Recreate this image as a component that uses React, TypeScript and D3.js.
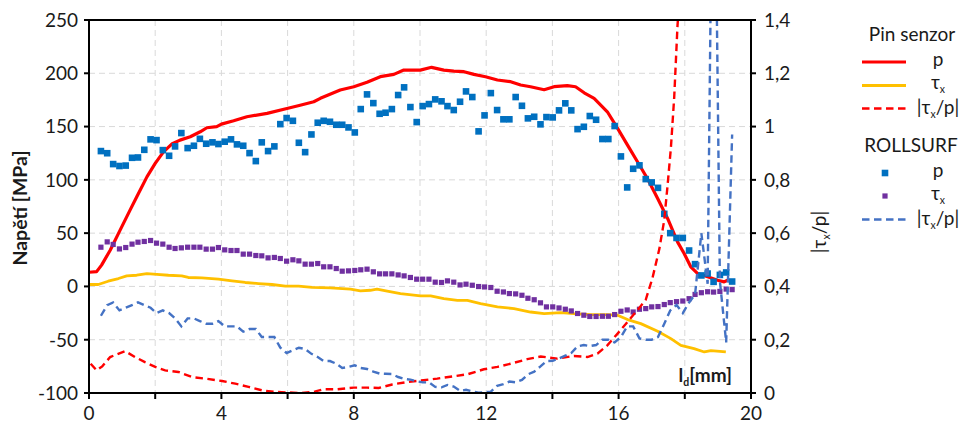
import React from 'react';
import * as d3 from 'd3';

const W = 967;
const H = 423;
const PL = 89, PR = 751, PT = 20, PB = 393;

// Pin senzor p [MPa]
const pinPX = [0, 0.23, 0.38, 0.64, 0.94, 1.24, 1.44, 1.75, 2.0, 2.25, 2.5, 2.75, 3.06, 3.36, 3.56, 3.86, 4.0, 4.37, 4.77, 5.38, 5.98, 6.38, 6.79, 6.99, 7.59, 8.0, 8.4, 8.8, 9.21, 9.51, 10.01, 10.35, 10.72, 11.02, 11.33, 11.63, 11.98, 12.34, 12.74, 13.04, 13.34, 13.75, 14.05, 14.45, 14.7, 14.96, 15.26, 15.66, 15.97, 16.27, 16.57, 16.87, 17.18, 17.48, 17.78, 17.98, 18.18, 18.39, 18.69, 18.99, 19.19, 19.29];
const pinP = [13.3, 13.9, 20, 34, 52.8, 71.6, 84, 102.8, 115.4, 126.3, 133.6, 137.3, 140.4, 145.1, 148.9, 150, 152.3, 155.4, 159.2, 162.4, 167, 170, 173.3, 176.5, 184.3, 187.4, 191.5, 196.8, 199, 203, 203, 205.6, 203, 202, 201.5, 199, 196.8, 193.7, 192.1, 189, 187.4, 184.6, 187.4, 188.4, 187.4, 181.7, 176.5, 163.9, 148.3, 132.6, 117, 101.3, 82.6, 63.8, 41.8, 30.9, 18.4, 12.1, 9, 5.8, 4.3, 5.8];

// Pin senzor tau_x [MPa]
const pinTauX = [0, 0.28, 0.58, 0.89, 1.14, 1.44, 1.75, 2.05, 2.4, 2.8, 3.0, 3.41, 3.91, 4.32, 4.72, 5.12, 5.53, 5.93, 6.33, 6.74, 7.29, 7.9, 8.2, 8.5, 8.7, 9.01, 9.41, 10.01, 10.32, 10.72, 11.13, 11.43, 11.83, 12.34, 12.84, 13.34, 13.75, 14.25, 14.65, 15.16, 15.66, 15.97, 16.27, 16.67, 17.18, 17.58, 17.88, 18.28, 18.59, 18.79, 19.24];
const pinTau = [1.8, 1.8, 4.9, 7.4, 9.9, 10.5, 12.1, 11.4, 10.5, 9.9, 8.4, 8.0, 6.8, 5.2, 3.7, 2.7, 1.8, 0.2, 0.2, -0.8, -1.4, -2.6, -4.2, -3.6, -2.6, -4.5, -6.7, -8.9, -8.9, -11.4, -13, -13, -16.1, -19.2, -20.8, -24, -25.5, -24.5, -25.5, -26.4, -26.4, -27, -31.1, -34.9, -42.1, -49, -55.3, -58.4, -61.5, -60.2, -61.5];

// Pin senzor |tau_x/p| (secondary axis)
const pinRatioX = [0.05, 0.23, 0.4, 0.64, 0.84, 1.09, 1.39, 1.69, 2.0, 2.3, 2.7, 3.11, 3.51, 4.02, 4.42, 4.82, 5.23, 5.63, 6.03, 6.43, 6.84, 7.09, 7.49, 8.0, 8.4, 8.75, 9.16, 9.61, 10.11, 10.52, 11.02, 11.43, 11.93, 12.34, 12.74, 13.24, 13.65, 14.15, 14.65, 15.06, 15.36, 15.66, 15.97, 16.27, 16.57, 16.82, 17.02, 17.23, 17.38, 17.48, 17.58, 17.68, 17.78, 17.85];
const pinRatio = [0.11, 0.085, 0.1, 0.135, 0.145, 0.157, 0.135, 0.116, 0.098, 0.085, 0.079, 0.06, 0.054, 0.045, 0.035, 0.023, 0.01, 0.004, 0.002, 0.0, 0.006, 0.014, 0.014, 0.02, 0.02, 0.019, 0.032, 0.041, 0.048, 0.054, 0.063, 0.07, 0.089, 0.098, 0.11, 0.127, 0.137, 0.129, 0.139, 0.135, 0.148, 0.179, 0.223, 0.267, 0.311, 0.35, 0.43, 0.54, 0.65, 0.78, 0.92, 1.11, 1.38, 1.5];

// ROLLSURF positions [mm]
const rsX = [
  0.36, 0.55, 0.73, 0.92, 1.11, 1.30, 1.48, 1.67, 1.86, 2.04,
  2.23, 2.42, 2.60, 2.79, 2.98, 3.17, 3.35, 3.54, 3.73, 3.91,
  4.10, 4.29, 4.47, 4.66, 4.85, 5.04, 5.22, 5.41, 5.60, 5.78,
  5.97, 6.16, 6.34, 6.53, 6.72, 6.91, 7.09, 7.28, 7.47, 7.65,
  7.84, 8.03, 8.21, 8.40, 8.59, 8.78, 8.96, 9.15, 9.34, 9.52,
  9.71, 9.90, 10.08, 10.27, 10.46, 10.65, 10.83, 11.02, 11.21, 11.39,
  11.58, 11.77, 11.95, 12.14, 12.33, 12.52, 12.70, 12.89, 13.08, 13.26,
  13.45, 13.64, 13.82, 14.01, 14.20, 14.39, 14.57, 14.76, 14.95, 15.13,
  15.32, 15.51, 15.69, 15.88, 16.07, 16.26, 16.44, 16.63, 16.82, 17.00,
  17.19, 17.38, 17.56, 17.75, 17.94, 18.13, 18.31, 18.50, 18.69, 18.87,
  19.06, 19.25, 19.43,
];
// ROLLSURF p [MPa]
const rsP = [
  127, 125, 114.8, 113, 113.4, 120.7, 121, 128.2, 138, 137.3,
  127.9, 122.6, 131.4, 143.9, 129.8, 132, 138.5, 133.9, 135.2, 133.6,
  135.8, 138, 133.3, 132, 125.1, 117.6, 135.2, 127, 131.4, 152.3,
  158, 155.4, 134.8, 126, 142.6, 153.6, 155.4, 154.5, 151.7, 151.7,
  149.2, 144.5, 166.4, 180.2, 172, 162, 163, 166.4, 179.6, 186.8,
  168.3, 154.2, 169.2, 171.1, 175.5, 173.7, 169.2, 165.5, 173.3, 183,
  177.7, 145.5, 160.5, 181.4, 165.5, 156.8, 156.8, 177.7, 169.5, 157.7,
  159.2, 152.1, 158.9, 158.6, 165.2, 171.8, 165.2, 147.6, 149.8, 159.9,
  156.4, 138.3, 138.3, 150.5, 122, 92.9, 110.4, 113.6, 100.7, 97.6,
  92.5, 68.1, 50, 45.5, 45.5, 33.7, 20.9, 10.3, 12.1, 4.3,
  10.8, 13.1, 4.6,
];
// ROLLSURF tau_x [MPa]
const rsTau = [
  36.8, 41.8, 39.4, 35.2, 36.5, 39.7, 41.5, 42.2, 43.1, 40.6,
  39.7, 36.8, 35.6, 36.2, 36.8, 36.8, 36.8, 35, 35, 36.5,
  34.3, 33.7, 33.7, 30.3, 30.3, 29, 28.7, 26.8, 27.2, 26.2,
  23.7, 25, 24, 20.9, 20.9, 21.5, 18.4, 18.4, 16.8, 14.3,
  14.6, 15, 15.6, 16.2, 13.7, 11.8, 11.8, 11.8, 10.8, 9.9,
  8.4, 6.8, 6.8, 6.8, 4, 3.7, 5.2, 4, 1.4, 2.1,
  1.1, -0.1, -0.5, -1, -4.5, -5.2, -6.7, -7, -8.3, -11.1,
  -12.5, -15.4, -19.2, -19.2, -20.2, -21.4, -23, -25.4, -27, -28.2,
  -28.2, -28, -28, -26.4, -23.3, -22.1, -24, -21.4, -20.8, -19.2,
  -18.9, -17, -15.2, -14.3, -13.7, -11.5, -7.5, -5.9, -5, -5.3,
  -4.7, -2.5, -3,
];
// ROLLSURF |tau_x/p| (secondary axis)
const rsRatio = [
  0.29, 0.33, 0.34, 0.31, 0.32, 0.33, 0.34, 0.33, 0.32, 0.30,
  0.31, 0.30, 0.28, 0.25, 0.28, 0.28, 0.27, 0.26, 0.26, 0.27,
  0.25, 0.25, 0.25, 0.23, 0.24, 0.24, 0.21, 0.21, 0.21, 0.17,
  0.15, 0.16, 0.17, 0.165, 0.147, 0.135, 0.12, 0.12, 0.11, 0.094,
  0.098, 0.104, 0.094, 0.09, 0.08, 0.073, 0.072, 0.071, 0.06, 0.053,
  0.05, 0.044, 0.04, 0.04, 0.023, 0.021, 0.03, 0.024, 0.008, 0.012,
  0.006, 0.001, 0.003, 0.005, 0.027, 0.033, 0.043, 0.04, 0.049, 0.07,
  0.08, 0.10, 0.12, 0.121, 0.13, 0.14, 0.15, 0.175, 0.18, 0.176,
  0.18, 0.20, 0.20, 0.19, 0.21, 0.25, 0.25, 0.205, 0.20, 0.20,
  0.21, 0.26, 0.31, 0.33, 0.30, 0.34, 0.37, 0.60, 0.41, 2.5,
  0.42, 0.19, 0.97,
];

const xTicks = [0, 2, 4, 6, 8, 10, 12, 14, 16, 18, 20];
const xLabelTicks = [0, 4, 8, 12, 16, 20];
const yTicks = [-100, -50, 0, 50, 100, 150, 200, 250];
const y2Ticks = [0, 0.2, 0.4, 0.6, 0.8, 1.0, 1.2, 1.4];

const FONT = "Lato, 'Open Sans', sans-serif";
const RED = '#FF0000';
const GOLD = '#FFC000';
const BLUE = '#0070C0';
const PURPLE = '#7030A0';
const DBLUE = '#4472C4';
const DASH = '7.5,4.5';

const x = d3.scaleLinear().domain([0, 20]).range([PL, PR]);
const y = d3.scaleLinear().domain([-100, 250]).range([PB, PT]);
const y2 = d3.scaleLinear().domain([0, 1.4]).range([PB, PT]);

const zip = (xs: number[], ys: number[]) => xs.map((v, i) => [v, ys[i]] as [number, number]);

const lineP = d3.line<[number, number]>().x(d => x(d[0])).y(d => y(d[1]));
const lineS = d3.line<[number, number]>().x(d => x(d[0])).y(d => y2(d[1]));

const fmt2 = (v: number) => String(+v.toFixed(1)).replace('.', ',');

const Tau = ({ fs }: { fs: number }) => (
  <>
    <tspan>τ</tspan>
    <tspan fontSize={fs * 0.55} dy={fs * 0.22}>x</tspan>
  </>
);

export default function App() {
  const legendTextX = 938;
  const fs = 19;
  return (
    <svg width={W} height={H} style={{ position: 'absolute', left: 0, top: 0, background: '#fff' }} fontFamily={FONT}>
      <defs>
        <clipPath id="plotClip">
          <rect x={PL} y={PT} width={PR - PL} height={PB - PT} />
        </clipPath>
      </defs>
      <rect x={0} y={0} width={W} height={H} fill="#fff" />
      {/* grid */}
      <g stroke="#d9d9d9" strokeWidth={1} strokeDasharray="6,4">
        {xTicks.filter(t => t > 0 && t < 20).map(t => (
          <line key={'gx' + t} x1={x(t)} x2={x(t)} y1={PT} y2={PB} />
        ))}
        {yTicks.filter(t => t > -100 && t < 250).map(t => (
          <line key={'gy' + t} x1={PL} x2={PR} y1={y(t)} y2={y(t)} />
        ))}
      </g>

      {/* series */}
      <g clipPath="url(#plotClip)">
        <path d={lineP(zip(pinPX, pinP)) || ''} fill="none" stroke={RED} strokeWidth={3.2} strokeLinejoin="round" />
        <path d={lineP(zip(pinTauX, pinTau)) || ''} fill="none" stroke={GOLD} strokeWidth={2.8} strokeLinejoin="round" />
        {rsX.map((v, i) => (
          <rect key={'bp' + i} x={x(v) - 3.3} y={y(rsP[i]) - 3.3} width={6.6} height={6.6} fill={BLUE} />
        ))}
        {rsX.map((v, i) => (
          <rect key={'pt' + i} x={x(v) - 2.6} y={y(rsTau[i]) - 2.6} width={5.2} height={5.2} fill={PURPLE} />
        ))}
        <path d={lineS(zip(pinRatioX, pinRatio)) || ''} fill="none" stroke={RED} strokeWidth={2.4} strokeDasharray={DASH} />
        <path d={lineS(zip(rsX, rsRatio)) || ''} fill="none" stroke={DBLUE} strokeWidth={2.4} strokeDasharray={DASH} />
      </g>

      {/* axes */}
      <g stroke="#000" strokeWidth={2}>
        <line x1={PL} x2={PR} y1={PT} y2={PT} />
        <line x1={PL} x2={PR} y1={PB} y2={PB} />
        <line x1={PL} x2={PL} y1={PT} y2={PB + 1} />
        <line x1={PR} x2={PR} y1={PT} y2={PB + 1} />
        {yTicks.map(t => <line key={'ty' + t} x1={PL - 5} x2={PL} y1={y(t)} y2={y(t)} />)}
        {y2Ticks.map(t => <line key={'ty2' + t} x1={PR} x2={PR + 5} y1={y2(t)} y2={y2(t)} />)}
        {xTicks.map(t => <line key={'tx' + t} x1={x(t)} x2={x(t)} y1={PB} y2={PB + 6} />)}
      </g>

      {/* tick labels */}
      <g fontSize={fs} fill="#1a1a1a">
        {yTicks.map(t => (
          <text key={'ly' + t} x={PL - 11} y={y(t)} dy="0.36em" textAnchor="end">{t}</text>
        ))}
        {y2Ticks.map(t => (
          <text key={'ly2' + t} x={PR + 13} y={y2(t)} dy="0.36em" textAnchor="start">{fmt2(t)}</text>
        ))}
        {xLabelTicks.map(t => (
          <text key={'lx' + t} x={x(t)} y={PB + 27} textAnchor="middle">{t}</text>
        ))}
      </g>

      {/* axis titles */}
      <text transform={`translate(27,208) rotate(-90)`} textAnchor="middle" fontSize={19.5} fontWeight="bold" fill="#1a1a1a">Napětí [MPa]</text>
      <text transform={`translate(826,232) rotate(-90)`} textAnchor="middle" fontSize={fs} fill="#1a1a1a">
        <tspan>|</tspan><Tau fs={fs} /><tspan dy={-fs * 0.22}>/p|</tspan>
      </text>
      <text x={732} y={382} textAnchor="end" fontSize={fs} fontWeight="bold" fill="#1a1a1a">
        <tspan>l</tspan><tspan fontSize={fs * 0.55} dy={4}>d</tspan><tspan dy={-4}>[mm]</tspan>
      </text>

      {/* legend */}
      <g fontSize={fs} fill="#1a1a1a">
        <text x={912} y={40.5} textAnchor="middle">Pin senzor</text>
        <line x1={862} x2={906} y1={62} y2={62} stroke={RED} strokeWidth={3.2} />
        <text x={legendTextX} y={66} textAnchor="middle">p</text>
        <line x1={862} x2={906} y1={85.5} y2={85.5} stroke={GOLD} strokeWidth={2.8} />
        <text x={legendTextX} y={89} textAnchor="middle"><Tau fs={fs} /></text>
        <line x1={862} x2={906} y1={108.5} y2={108.5} stroke={RED} strokeWidth={2.4} strokeDasharray={DASH} />
        <text x={legendTextX} y={114} textAnchor="middle"><tspan>|</tspan><Tau fs={fs} /><tspan dy={-fs * 0.22}>/p|</tspan></text>

        <text x={911} y={151.5} textAnchor="middle">ROLLSURF</text>
        <rect x={885 - 3.3} y={173 - 3.3} width={6.6} height={6.6} fill={BLUE} />
        <text x={legendTextX} y={177} textAnchor="middle">p</text>
        <rect x={885 - 2.6} y={196 - 2.6} width={5.2} height={5.2} fill={PURPLE} />
        <text x={legendTextX} y={200} textAnchor="middle"><Tau fs={fs} /></text>
        <line x1={862} x2={906} y1={219.5} y2={219.5} stroke={DBLUE} strokeWidth={2.4} strokeDasharray={DASH} />
        <text x={legendTextX} y={225} textAnchor="middle"><tspan>|</tspan><Tau fs={fs} /><tspan dy={-fs * 0.22}>/p|</tspan></text>
      </g>
    </svg>
  );
}
